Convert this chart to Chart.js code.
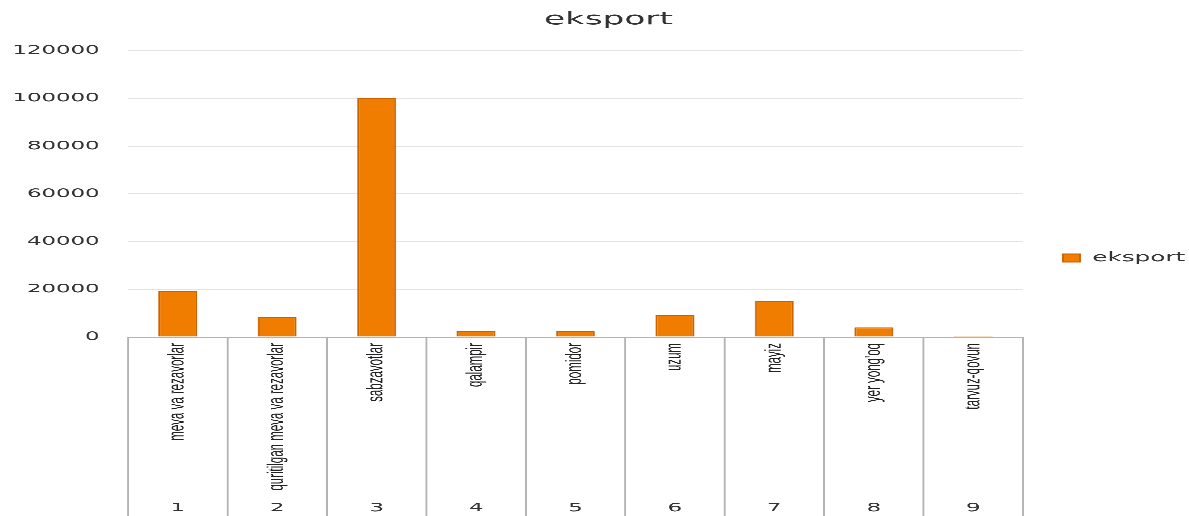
<!DOCTYPE html>
<html>
<head>
<meta charset="utf-8">
<script src="https://cdn.jsdelivr.net/npm/chart.js@4/dist/chart.umd.min.js"></script>
<style>
  html, body { margin: 0; padding: 0; background: #fff; overflow: hidden; }
  /* the reference picture is stretched sideways, so the chart is drawn narrow and widened */
  #wrap { width: 626px; height: 516px; transform: scaleX(1.8994); transform-origin: 0 0; }
</style>
</head>
<body>
<div id="wrap"><canvas id="graficoEksport"></canvas></div>
<script>
// datos de la gráfica
const categorias = [
    "meva va rezavorlar",
    "quritilgan meva va rezavorlar",
    "sabzavotlar",
    "qalampir",
    "pomidor",
    "uzum",
    "mayiz",
    "yer yong'oq",
    "tarvuz-qovun"
];
const numeros = ["1", "2", "3", "4", "5", "6", "7", "8", "9"];
const eksport = [19200, 8500, 100000, 2600, 2400, 9200, 15000, 4000, 400];
const ticksY = [0, 20000, 40000, 60000, 80000, 100000, 120000];

const naranja = '#f07c00';
const gris = '#b3b3b3';

function inicializarGrafico(canvasId) {
    const canvas = document.getElementById(canvasId);
    if (!canvas) {
        console.error('No se encontró el canvas:', canvasId);
        return;
    }
    new Chart(canvas, {
        type: 'bar',
        data: {
            labels: categorias,
            datasets: [{
                label: 'eksport',
                data: eksport,
                backgroundColor: naranja,
                borderColor: '#c86400',
                borderWidth: 1,
                barPercentage: 0.39,
                categoryPercentage: 1.0
            }]
        },
        options: {
            responsive: true,
            maintainAspectRatio: false,
            devicePixelRatio: 3,
            animation: false,
            layout: { padding: { left: 6.6, right: -8, top: 0, bottom: 0 } },
            plugins: {
                title: {
                    display: true,
                    text: 'eksport',
                    color: '#333',
                    font: { family: 'DejaVu Sans', size: 18, weight: 'normal' },
                    padding: { top: 9, bottom: 20 }
                },
                legend: {
                    position: 'right',
                    labels: {
                        color: '#333',
                        font: { family: 'DejaVu Sans', size: 13 },
                        boxWidth: 9,
                        boxHeight: 8,
                        padding: 2
                    }
                },
                tooltip: { enabled: false }
            },
            scales: {
                x: {
                    type: 'category',
                    position: 'bottom',
                    weight: 0,
                    offset: true,
                    grid: { drawOnChartArea: false, offset: true, tickLength: 180, color: gris, lineWidth: 1 },
                    border: { color: gris },
                    ticks: {
                        autoSkip: false,
                        minRotation: 90,
                        maxRotation: 90,
                        padding: -174,
                        color: '#222',
                        font: { family: 'Liberation Sans', size: 11.5 }
                    },
                    // la altura del eje se fija a mano (las etiquetas van dentro de las líneas largas)
                    afterFit: (escala) => { escala.height = 160; }
                },
                x2: {
                    type: 'category',
                    labels: numeros,
                    position: 'bottom',
                    weight: 1,
                    offset: true,
                    grid: { display: false },
                    border: { display: false },
                    ticks: {
                        padding: -4,
                        color: '#333',
                        font: { family: 'DejaVu Sans', size: 12 }
                    },
                    afterFit: (escala) => { escala.height = 19; }
                },
                y: {
                    min: 0,
                    max: 120000,
                    afterBuildTicks: (escala) => {
                        escala.ticks = ticksY.map(v => ({ value: v }));
                    },
                    grid: { color: '#e4e4e4', drawTicks: false },
                    border: { display: false },
                    ticks: {
                        padding: 15,
                        color: '#333',
                        font: { family: 'DejaVu Sans', size: 12 },
                        callback: (valor) => String(valor)
                    },
                    afterFit: (escala) => { escala.width = 60.8; }
                },
                y2: {
                    position: 'right',
                    display: true,
                    grid: { display: false },
                    border: { display: false },
                    ticks: { display: false },
                    afterFit: (escala) => { escala.width = 19; }
                }
            }
        }
    });
}

document.addEventListener('DOMContentLoaded', () => {
    inicializarGrafico('graficoEksport');
});
</script>
</body>
</html>
